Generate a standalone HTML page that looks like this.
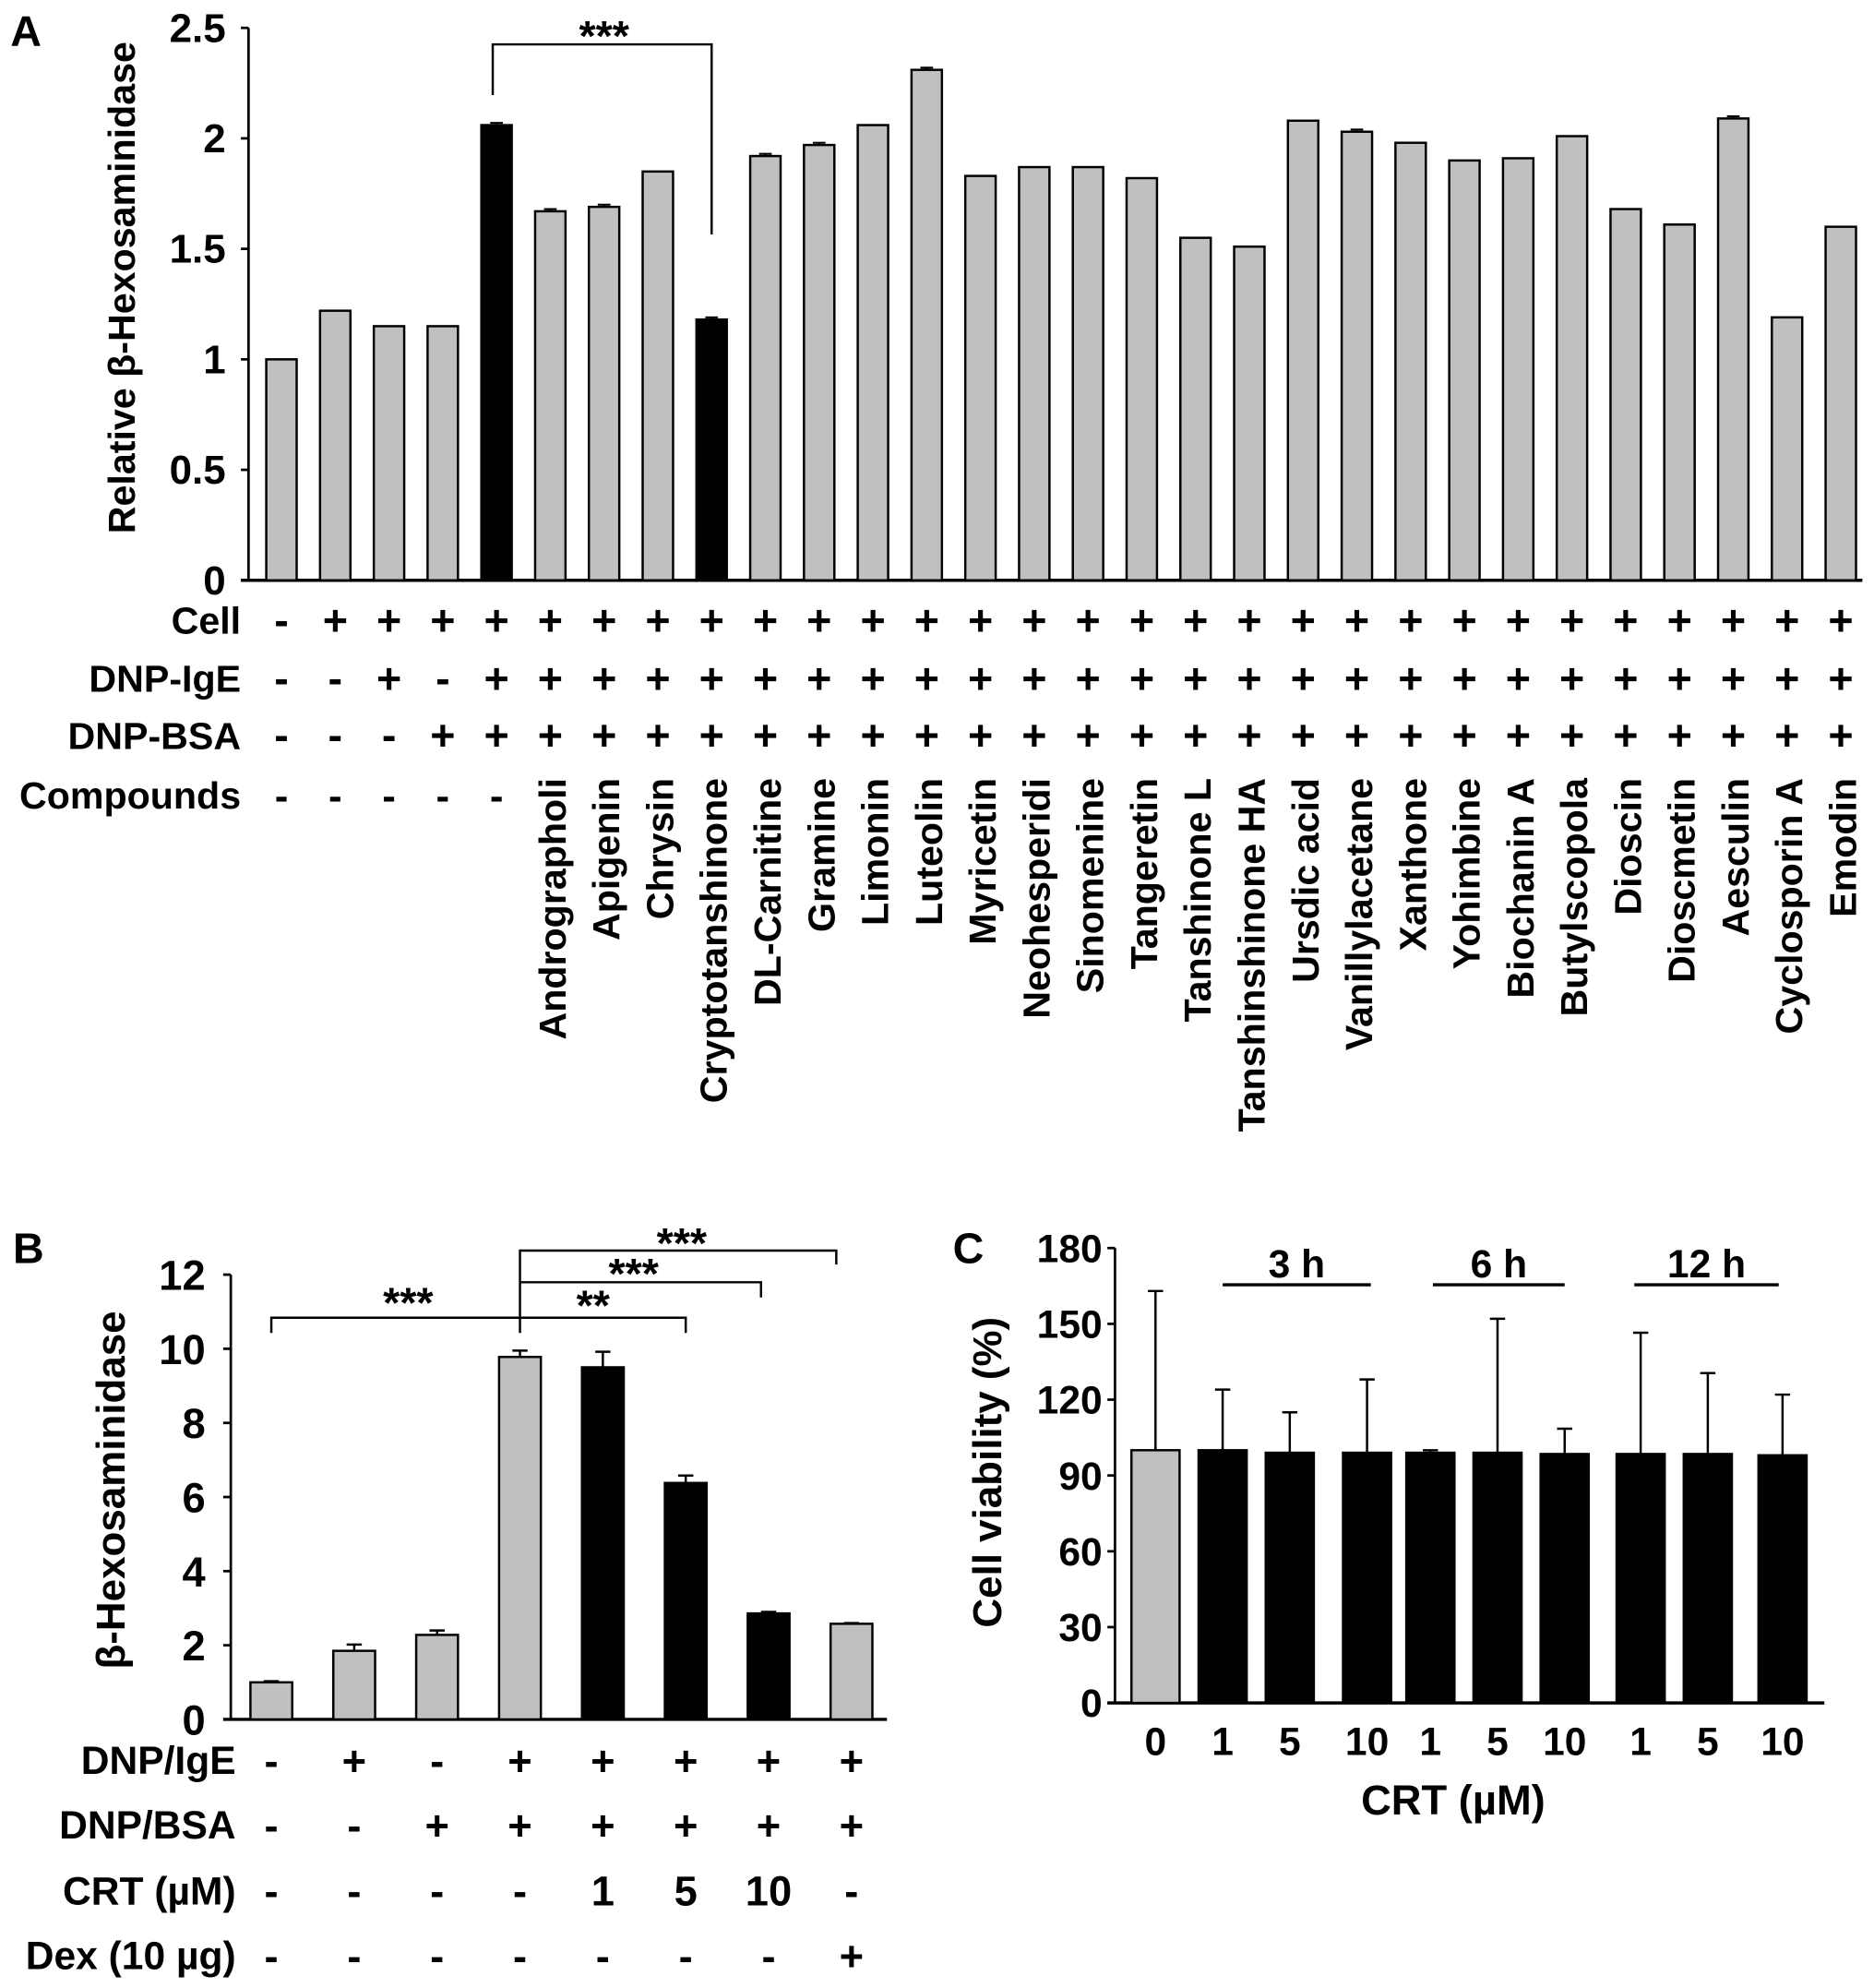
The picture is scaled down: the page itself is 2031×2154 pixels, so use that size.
<!DOCTYPE html>
<html><head><meta charset="utf-8"><style>
html,body{margin:0;padding:0;background:#fff;}
svg{display:block;}
text{font-family:"Liberation Sans",Arial,sans-serif;font-weight:bold;fill:#000;}
.nar{font-family:"Liberation Sans Narrow","Liberation Sans",sans-serif;}
</style></head><body>
<svg id="fig" width="2031" height="2154" viewBox="0 0 1479 1569" xmlns="http://www.w3.org/2000/svg">
<g id="pa"></g>
<g id="pb"></g>
<g id="pc"></g>
</svg>
<script>
// Panel A data
const aCompounds = ["","","","","","Andrographoli","Apigenin","Chrysin","Cryptotanshinone","DL-Carnitine","Gramine","Limonin","Luteolin","Myricetin","Neohesperidi","Sinomenine","Tangeretin","Tanshinone L","Tanshinshinone HA","Ursdic acid","Vanillylacetane","Xanthone","Yohimbine","Biochanin A","Butylscopola","Dioscin","Dioscmetin","Aesculin","Cyclosporin A","Emodin"];
const aValues = [1.0,1.22,1.15,1.15,2.06,1.67,1.69,1.85,1.18,1.92,1.97,2.06,2.31,1.83,1.87,1.87,1.82,1.55,1.51,2.08,2.03,1.98,1.90,1.91,2.01,1.68,1.61,2.09,1.19,1.60];
const aErrors = [0,0,0,0,0.01,0.01,0.01,0,0.01,0.01,0.01,0,0.01,0,0,0,0,0,0,0,0.01,0,0,0,0,0,0,0.01,0,0];
const aBlack = [4,8];
const aCell = ["-","+","+","+","+","+","+","+","+","+","+","+","+","+","+","+","+","+","+","+","+","+","+","+","+","+","+","+","+","+"];
const aIgE = ["-","-","+","-","+","+","+","+","+","+","+","+","+","+","+","+","+","+","+","+","+","+","+","+","+","+","+","+","+","+"];
const aBSA = ["-","-","-","+","+","+","+","+","+","+","+","+","+","+","+","+","+","+","+","+","+","+","+","+","+","+","+","+","+","+"];
const aTicks = [0,0.5,1,1.5,2,2.5];
const aTickLabels = ["0","0.5","1","1.5","2","2.5"];
// Panel B data
const bValues = [1.0,1.85,2.28,9.78,9.5,6.38,2.86,2.58];
const bErrors = [0.03,0.17,0.12,0.17,0.42,0.2,0.04,0.02];
const bBlack = [4,5,6];
const bIgE = ["-","+","-","+","+","+","+","+"];
const bBSA = ["-","-","+","+","+","+","+","+"];
const bCRT = ["-","-","-","-","1","5","10","-"];
const bDex = ["-","-","-","-","-","-","-","+"];
const bTicks = [0,2,4,6,8,10,12];
// Panel C data
const cLabels = ["0","1","5","10","1","5","10","1","5","10"];
const cValues = [100,100,99,99,99,99,98.5,98.5,98.5,98];
const cErrors = [63,24,16,29,1,53,10,48,32,24];
const cTicks = [0,30,60,90,120,150,180];

const NS="http://www.w3.org/2000/svg";
function mk(parent,tag,attrs,txt){const e=document.createElementNS(NS,tag);for(const k in attrs)e.setAttribute(k,attrs[k]);if(txt!==undefined)e.textContent=txt;parent.appendChild(e);return e;}

// ---------- Panel A ----------
const pa=document.getElementById('pa');
const aY=v=>458-v*(436/2.5);
const aX=i=>222+i*((1453-222)/29);
let t=mk(pa,'text',{x:8,y:36,'font-size':34});t.textContent='A';


let l=mk(pa,'line',{x1:196,y1:aY(2.5),x2:196,y2:458,stroke:'#000','stroke-width':2});


l=mk(pa,'line',{x1:190,y1:458,x2:1470,y2:458,stroke:'#000','stroke-width':2.5});


aTicks.forEach((v,i)=>{
  mk(pa,'line',{x1:190,y1:aY(v),x2:196,y2:aY(v),stroke:'#000','stroke-width':2});
  const tt=mk(pa,'text',{x:178,y:aY(v)+11,'font-size':32,'text-anchor':'end'},aTickLabels[i]);
  
  
});
t=mk(pa,'text',{x:0,y:0,'font-size':30,'text-anchor':'middle',transform:'translate(106,227) rotate(-90)'},'Relative β-Hexosaminidase');


aValues.forEach((v,i)=>{
  const x=aX(i),w=24,blk=aBlack.includes(i);
  const r=mk(pa,'rect',{x:x-w/2,y:aY(v),width:w,height:458-aY(v),fill:blk?'#000':'#c0c0c0',stroke:'#000','stroke-width':1.8});
  
  
  if(aErrors[i]>0){const ey=aY(v+aErrors[i]);mk(pa,'line',{x1:x,y1:aY(v),x2:x,y2:ey,stroke:'#000','stroke-width':1.5});mk(pa,'line',{x1:x-5,y1:ey,x2:x+5,y2:ey,stroke:'#000','stroke-width':1.5});}
});
const aRows=[["Cell",aCell,489],["DNP-IgE",aIgE,535],["DNP-BSA",aBSA,580]];
aRows.forEach(([name,arr,y])=>{
  const rl=mk(pa,'text',{x:190,y:y+11,'font-size':30,'text-anchor':'end'},name);
  
  
  arr.forEach((s,i)=>{const st=mk(pa,'text',{x:aX(i),y:y+12,'font-size':34,'text-anchor':'middle'},s);
    
    });
});
t=mk(pa,'text',{x:190,y:638,'font-size':30,'text-anchor':'end'},'Compounds');


aCompounds.forEach((c,i)=>{
  const x=aX(i);
  if(c===''){const d=mk(pa,'text',{x:x,y:639,'font-size':32,'text-anchor':'middle'},'-');
    
    }
  else{const ct=mk(pa,'text',{x:0,y:0,'font-size':30,'text-anchor':'end',transform:`translate(${x+12},614) rotate(-90)`},c);
    
    }
});
let br=mk(pa,'path',{d:`M${aX(4)-3},75 V35 H${aX(8)} V185`,fill:'none',stroke:'#000','stroke-width':1.8});


t=mk(pa,'text',{x:(aX(4)+aX(8))/2,y:40,'font-size':34,'text-anchor':'middle'},'***');



// ---------- Panel B ----------
const pb=document.getElementById('pb');
const bY=v=>1357-v*(351/12);
const bX=i=>214+i*((672-214)/7);
t=mk(pb,'text',{x:10,y:997,'font-size':34},'B');


l=mk(pb,'line',{x1:182,y1:bY(12),x2:182,y2:1357,stroke:'#000','stroke-width':2});


l=mk(pb,'line',{x1:176,y1:1357,x2:700,y2:1357,stroke:'#000','stroke-width':2.5});


bTicks.forEach(v=>{
  mk(pb,'line',{x1:176,y1:bY(v),x2:182,y2:bY(v),stroke:'#000','stroke-width':2});
  const tt=mk(pb,'text',{x:162,y:bY(v)+12,'font-size':33,'text-anchor':'end'},String(v));
  
  
});
t=mk(pb,'text',{x:0,y:0,'font-size':32,'text-anchor':'middle',transform:'translate(98,1176) rotate(-90)'},'β-Hexosaminidase');


bValues.forEach((v,i)=>{
  const x=bX(i),w=33,blk=bBlack.includes(i);
  const r=mk(pb,'rect',{x:x-w/2,y:bY(v),width:w,height:1357-bY(v),fill:blk?'#000':'#c0c0c0',stroke:'#000','stroke-width':1.8});
  
  
  const ey=bY(v+bErrors[i]);mk(pb,'line',{x1:x,y1:bY(v),x2:x,y2:ey,stroke:'#000','stroke-width':1.8});mk(pb,'line',{x1:x-6,y1:ey,x2:x+6,y2:ey,stroke:'#000','stroke-width':1.8});
});
const bRows=[["DNP/IgE",bIgE,1389],["DNP/BSA",bBSA,1440],["CRT (µM)",bCRT,1492],["Dex (10 µg)",bDex,1543]];
bRows.forEach(([name,arr,y])=>{
  const rl=mk(pb,'text',{x:186,y:y+11,'font-size':31,'text-anchor':'end'},name);
  
  
  arr.forEach((s,i)=>{const st=mk(pb,'text',{x:bX(i),y:y+12,'font-size':33,'text-anchor':'middle'},s);
    
    });
});
br=mk(pb,'path',{d:`M${bX(0)},1052 V1040 H${bX(5)} V1052 M${bX(3)},1052 V987 H${bX(7)-12} V998 M${bX(3)},1012 H${bX(6)-6} V1024`,fill:'none',stroke:'#000','stroke-width':1.8});


[["***",322,1040],["**",468,1042],["***",500,1017],["***",538,993]].forEach(([s,x,y])=>{
  const st=mk(pb,'text',{x:x,y:y,'font-size':34,'text-anchor':'middle'},s);
  
  
});

// ---------- Panel C ----------
const pc=document.getElementById('pc');
const cY=v=>1344-v*(359/180);
const cXs=[912,965,1018,1079,1129,1182,1235,1295,1348,1407];
const cX=i=>cXs[i];
t=mk(pc,'text',{x:752,y:997,'font-size':34},'C');


l=mk(pc,'line',{x1:880,y1:cY(180),x2:880,y2:1344,stroke:'#000','stroke-width':2});


l=mk(pc,'line',{x1:874,y1:1344,x2:1440,y2:1344,stroke:'#000','stroke-width':2.5});


cTicks.forEach(v=>{
  mk(pc,'line',{x1:874,y1:cY(v),x2:880,y2:cY(v),stroke:'#000','stroke-width':2});
  const tt=mk(pc,'text',{x:870,y:cY(v)+11,'font-size':31,'text-anchor':'end','class':'nar'},String(v));
  
  
});
t=mk(pc,'text',{x:0,y:0,'font-size':32,'text-anchor':'middle',transform:'translate(790,1162) rotate(-90)'},'Cell viability (%)');


cValues.forEach((v,i)=>{
  const x=cX(i),w=38;
  const r=mk(pc,'rect',{x:x-w/2,y:cY(v),width:w,height:1344-cY(v),fill:i===0?'#c0c0c0':'#000',stroke:'#000','stroke-width':1.8});
  
  
  const ey=cY(v+cErrors[i]);mk(pc,'line',{x1:x,y1:cY(v),x2:x,y2:ey,stroke:'#000','stroke-width':1.8});mk(pc,'line',{x1:x-6,y1:ey,x2:x+6,y2:ey,stroke:'#000','stroke-width':1.8});
  const tl=mk(pc,'text',{x:x,y:1385,'font-size':31,'text-anchor':'middle','class':'nar'},cLabels[i]);
  
  
});
[["3 h",965,1082],["6 h",1131,1235],["12 h",1290,1404]].forEach(([s,a,b])=>{
  const gl=mk(pc,'line',{x1:a,y1:1014,x2:b,y2:1014,stroke:'#000','stroke-width':2.5});
  
  
  const gt=mk(pc,'text',{x:(a+b)/2,y:1008,'font-size':31,'text-anchor':'middle','class':'nar'},s);
  
  
});
t=mk(pc,'text',{x:1147,y:1432,'font-size':33,'text-anchor':'middle'},'CRT (µM)');


</script>
</body></html>
